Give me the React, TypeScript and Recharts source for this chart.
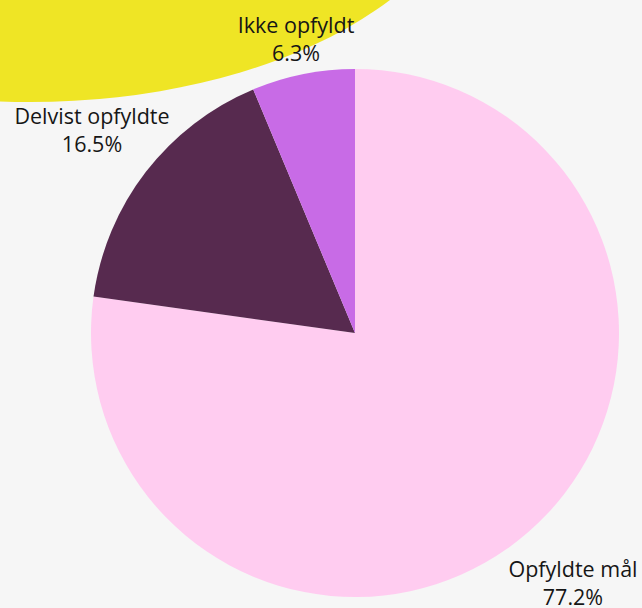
import { Pie, PieChart, Cell } from 'recharts'

// Share of goals, in percent, clockwise from 12 o'clock
const categories = ['Opfyldte mål', 'Delvist opfyldte', 'Ikke opfyldt']
const shares = [77.2, 16.5, 6.3]
const shareLabels = ['77.2%', '16.5%', '6.3%']

const SLICE_COLORS = ['#ffccf0', '#572a4f', '#c86be6']
const BACKGROUND = '#f6f6f6'
const ACCENT_YELLOW = '#efe525'
const TEXT_COLOR = '#161616'
const FONT = '"Open Sans", sans-serif'

const RADIAN = Math.PI / 180

const chartData = categories.map((name, i) => ({
  name,
  value: shares[i],
  text: shareLabels[i],
}))

function renderLabel(props: any) {
  const { cx, cy, midAngle, outerRadius, index } = props
  const cos = Math.cos(-midAngle * RADIAN)
  const sin = Math.sin(-midAngle * RADIAN)
  // labels off to the sides sit further out so the text clears the rim
  const dist = outerRadius + (Math.abs(cos) > 0.5 ? 68 : 36)
  const x = cx + dist * cos
  const y = cy + dist * sin
  return (
    <text
      x={x}
      y={y}
      textAnchor="middle"
      fill={TEXT_COLOR}
      fontFamily={FONT}
      fontSize={21.5}
    >
      <tspan x={x} dy={-6}>
        {chartData[index].name}
      </tspan>
      <tspan x={x} dy={28}>
        {chartData[index].text}
      </tspan>
    </text>
  )
}

export default function App() {
  return (
    <div
      style={{
        position: 'fixed',
        top: 0,
        left: 0,
        width: 642,
        height: 608,
        background: BACKGROUND,
        overflow: 'hidden',
      }}
    >
      <svg width={642} height={608} style={{ position: 'absolute', top: 0, left: 0 }}>
        <ellipse cx={30} cy={-150} rx={448} ry={252} fill={ACCENT_YELLOW} />
      </svg>
      <div style={{ position: 'absolute', top: 0, left: 0 }}>
        <PieChart width={642} height={608} margin={{ top: 0, right: 0, bottom: 0, left: 0 }}>
          <Pie
            data={chartData}
            dataKey="value"
            nameKey="name"
            cx={355}
            cy={333}
            outerRadius={264}
            startAngle={90}
            endAngle={-270}
            stroke="none"
            labelLine={false}
            label={renderLabel}
            isAnimationActive={false}
          >
            {chartData.map((entry, i) => (
              <Cell key={entry.name} fill={SLICE_COLORS[i]} />
            ))}
          </Pie>
        </PieChart>
      </div>
    </div>
  )
}
